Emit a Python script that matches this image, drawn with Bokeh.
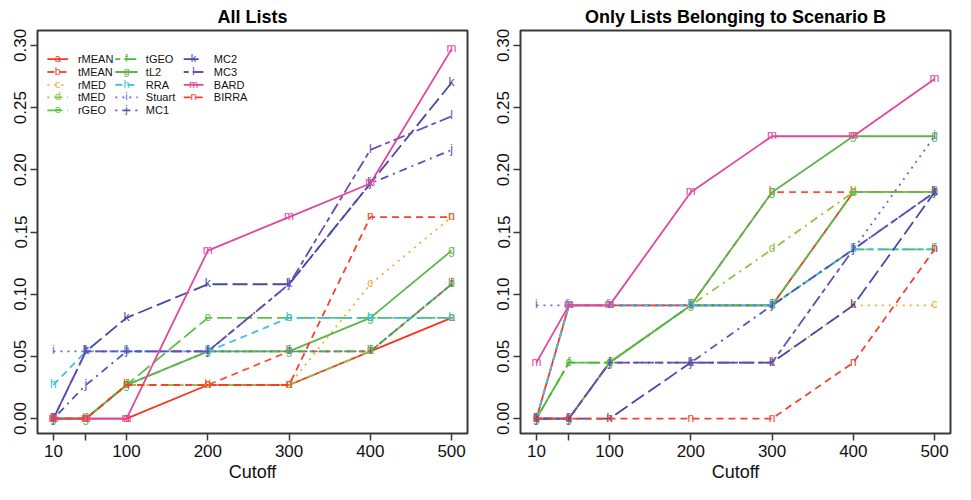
from bokeh.plotting import figure
from bokeh.layouts import row
from bokeh.models import FixedTicker, Range1d, ColumnDataSource
from bokeh.core.properties import value
from bokeh.embed import file_html
from bokeh.resources import INLINE

# ---------------- data ----------------
cutoffs = [10, 50, 100, 200, 300, 400, 500]
x_tick_labels = ["10", "", "100", "200", "300", "400", "500"]
y_ticks = [0.0, 0.05, 0.10, 0.15, 0.20, 0.25, 0.30]
y_tick_labels = ["0.00", "0.05", "0.10", "0.15", "0.20", "0.25", "0.30"]

methods = ["rMEAN", "tMEAN", "rMED", "tMED", "rGEO", "tGEO", "tL2",
           "RRA", "Stuart", "MC1", "MC2", "MC3", "BARD", "BIRRA"]
symbols = ["a", "b", "c", "d", "e", "f", "g", "h", "i", "j", "k", "l", "m", "n"]

# Panel 1: All Lists
all_rmean  = [0, 0, 0, 0.027, 0.027, 0.054, 0.081]
all_tmean  = [0, 0, 0.027, 0.027, 0.054, 0.054, 0.108]
all_rmed   = [0, 0, 0.027, 0.027, 0.027, 0.108, 0.162]
all_tmed   = [0, 0, 0.027, 0.027, 0.027, 0.054, 0.108]
all_rgeo   = [0, 0, 0.027, 0.081, 0.081, 0.081, 0.081]
all_tgeo   = [0, 0, 0.027, 0.054, 0.054, 0.054, 0.108]
all_tl2    = [0, 0, 0.027, 0.054, 0.054, 0.081, 0.135]
all_rra    = [0.027, 0.054, 0.054, 0.054, 0.081, 0.081, 0.081]
all_stuart = [0.054, 0.054, 0.054, 0.054, 0.054, 0.054, 0.108]
all_mc1    = [0, 0.027, 0.054, 0.054, 0.108, 0.189, 0.216]
all_mc2    = [0, 0.054, 0.081, 0.108, 0.108, 0.189, 0.270]
all_mc3    = [0, 0.054, 0.054, 0.054, 0.108, 0.216, 0.243]
all_bard   = [0, 0, 0, 0.135, 0.162, 0.189, 0.297]
all_birra  = [0, 0, 0.027, 0.027, 0.027, 0.162, 0.162]

# Panel 2: Only Lists Belonging to Scenario B
scb_rmean  = [0, 0.091, 0.091, 0.091, 0.091, 0.182, 0.182]
scb_tmean  = [0, 0.091, 0.091, 0.091, 0.182, 0.182, 0.182]
scb_rmed   = [0, 0, 0.045, 0.045, 0.045, 0.091, 0.091]
scb_tmed   = [0, 0, 0.045, 0.091, 0.136, 0.182, 0.182]
scb_rgeo   = [0, 0.045, 0.045, 0.091, 0.091, 0.182, 0.182]
scb_tgeo   = [0, 0.045, 0.045, 0.091, 0.091, 0.136, 0.136]
scb_tl2    = [0, 0, 0.045, 0.091, 0.182, 0.227, 0.227]
scb_rra    = [0, 0.091, 0.091, 0.091, 0.091, 0.136, 0.136]
scb_stuart = [0.091, 0.091, 0.091, 0.091, 0.091, 0.136, 0.227]
scb_mc1    = [0, 0, 0.045, 0.045, 0.091, 0.136, 0.182]
scb_mc2    = [0, 0, 0, 0.045, 0.045, 0.091, 0.182]
scb_mc3    = [0, 0, 0.045, 0.045, 0.045, 0.136, 0.182]
scb_bard   = [0.045, 0.091, 0.091, 0.182, 0.227, 0.227, 0.273]
scb_birra  = [0, 0, 0, 0, 0, 0.045, 0.136]

all_series = [all_rmean, all_tmean, all_rmed, all_tmed, all_rgeo, all_tgeo, all_tl2,
              all_rra, all_stuart, all_mc1, all_mc2, all_mc3, all_bard, all_birra]
scb_series = [scb_rmean, scb_tmean, scb_rmed, scb_tmed, scb_rgeo, scb_tgeo, scb_tl2,
              scb_rra, scb_stuart, scb_mc1, scb_mc2, scb_mc3, scb_bard, scb_birra]

# ---------------- styles ----------------
colors = ["#F8341C", "#F5503A", "#F6AA3A", "#8CC63F", "#5CBF46", "#47B83A", "#5DB54C",
          "#42BEDE", "#5A6CD0", "#4A58BE", "#4848A8", "#6A4CB8", "#E0489E", "#F5402E"]
lty = {"solid": "solid", "dashed": "7 5", "dotted": "2 5",
       "dotdash": "2 5 8 5", "longdash": "15 5", "twodash": "5 4 12 4"}
lty_order = ["solid", "dashed", "dotted", "dotdash", "longdash", "twodash"]
dashes = [lty[lty_order[i % 6]] for i in range(len(methods))]

FONT = "Liberation Sans"
X0, X1 = -9.6, 519.6
Y0, Y1 = -0.012, 0.312


def make_panel(title, series, left_border, right_border, legend=False):
    p = figure(width=left_border + 430 + right_border, height=484,
               x_range=Range1d(X0, X1), y_range=Range1d(Y0, Y1),
               output_backend="svg", toolbar_location=None,
               min_border_left=left_border, min_border_right=right_border,
               min_border_top=4, min_border_bottom=4)
    p.title.text = title
    p.title.align = "center"
    p.title.text_font = FONT
    p.title.text_font_size = "18px"
    p.title.text_font_style = "bold"
    p.title.text_color = "#000000"
    p.title.standoff = 8

    p.xgrid.visible = False
    p.ygrid.visible = False
    p.outline_line_color = "#3a3a3a"
    p.outline_line_width = 2
    p.background_fill_color = "white"
    p.border_fill_color = "white"

    for ax in (p.xaxis[0], p.yaxis[0]):
        ax.axis_line_color = None
        ax.major_tick_line_color = "#3a3a3a"
        ax.major_tick_line_width = 1.5
        ax.major_tick_out = 7
        ax.major_tick_in = 0
        ax.minor_tick_line_color = None
        ax.major_label_standoff = 4
        ax.major_label_text_font = FONT
        ax.major_label_text_font_size = "17px"
        ax.major_label_text_color = "#111111"
        ax.axis_label_text_font = FONT
        ax.axis_label_text_font_size = "18px"
        ax.axis_label_text_font_style = "normal"
        ax.axis_label_text_color = "#111111"

    p.xaxis.ticker = FixedTicker(ticks=cutoffs)
    p.xaxis.major_label_overrides = {c: l for c, l in zip(cutoffs, x_tick_labels)}
    p.xaxis.axis_label = "Cutoff"
    p.xaxis.axis_label_standoff = 2
    p.yaxis.ticker = FixedTicker(ticks=y_ticks)
    p.yaxis.major_label_overrides = {t: l for t, l in zip(y_ticks, y_tick_labels)}
    p.yaxis.major_label_orientation = "vertical"

    for vals, sym, col, dash in zip(series, symbols, colors, dashes):
        src = ColumnDataSource(dict(x=cutoffs, y=vals, t=[sym] * len(cutoffs)))
        p.line("x", "y", source=src, line_color=col, line_width=1.8, line_dash=dash)
        p.text("x", "y", text="t", source=src, text_color=col,
               text_font=value(FONT), text_font_size="12px", y_offset=-1,
               text_align="center", text_baseline="middle")

    if legend:
        fx = lambda f: X0 + f * (X1 - X0)
        fy = lambda f: Y1 - f * (Y1 - Y0)
        rows_f = [0.071, 0.103, 0.135, 0.166, 0.198]
        cols_f = [(0.023, 0.071, 0.047, 0.094),
                  (0.181, 0.233, 0.207, 0.252),
                  (0.340, 0.386, 0.363, 0.410)]
        for i, (name, sym, col, dash) in enumerate(zip(methods, symbols, colors, dashes)):
            c = i // 5
            r = i % 5
            a, b, m, t = cols_f[c]
            yy = fy(rows_f[r])
            p.segment(x0=[fx(a)], y0=[yy], x1=[fx(b)], y1=[yy],
                      line_color=col, line_width=1.8, line_dash=dash)
            p.text(x=[fx(m)], y=[yy], text=[sym], text_color=col,
                   text_font=value(FONT), text_font_size="11px", y_offset=-1,
                   text_align="center", text_baseline="middle")
            p.text(x=[fx(t)], y=[yy], text=[name], text_color="#111111",
                   text_font=value(FONT), text_font_size="11px",
                   text_align="left", text_baseline="middle")
    return p


p1 = make_panel("All Lists", all_series, 37, 8, legend=True)
p2 = make_panel("Only Lists Belonging to Scenario B", scb_series, 45, 5)

layout = row(p1, p2)
open("out.html", "w").write(file_html(layout, INLINE))
